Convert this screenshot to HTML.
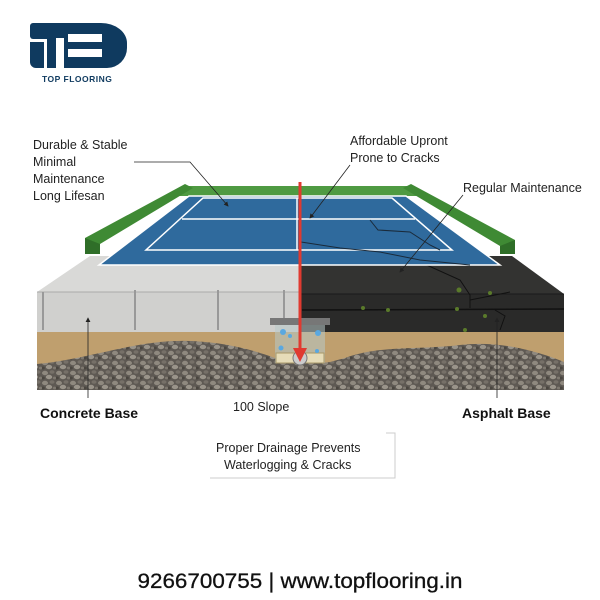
<!DOCTYPE html>
<html><head><meta charset="utf-8"><style>
body{margin:0;width:600px;height:600px;background:#fff;overflow:hidden}
svg{display:block}
text{font-family:"Liberation Sans",sans-serif}
</style></head><body>
<svg width="600" height="600" viewBox="0 0 600 600" xmlns="http://www.w3.org/2000/svg">
<defs>
<pattern id="grav" width="14" height="10" patternUnits="userSpaceOnUse">
<rect width="14" height="10" fill="#5e5953"/>
<ellipse cx="3" cy="3" rx="3" ry="2.2" fill="#8f897f"/>
<ellipse cx="10" cy="2" rx="2.5" ry="1.8" fill="#767068"/>
<ellipse cx="7" cy="7" rx="3.2" ry="2.2" fill="#9a948a"/>
<ellipse cx="1" cy="8" rx="1.8" ry="1.5" fill="#4a4640"/>
<ellipse cx="12.5" cy="8" rx="1.6" ry="1.4" fill="#7e786f"/>
</pattern>
<marker id="ah" markerWidth="6" markerHeight="6" refX="5" refY="3" orient="auto"><path d="M0,0L6,3L0,6z" fill="#222"/></marker>
</defs>
<!-- logo -->
<rect x="30" y="23" width="25" height="16" rx="3" fill="#0f3a5f"/>
<path d="M30,42 h14 v26 h-8 a6,6 0 0 1 -6,-6z" fill="#0f3a5f"/>
<path d="M47,23 h40 v45 h-40z" fill="#0f3a5f"/>
<path d="M59,23 h42 a26,20 0 0 1 26,20 v5 a20,20 0 0 1 -20,20 h-48z" fill="#0f3a5f"/>
<rect x="56" y="38" width="8" height="30" fill="#fff"/>
<rect x="68" y="34" width="34" height="8" fill="#fff"/>
<rect x="68" y="49" width="34" height="8" fill="#fff"/>
<text x="42" y="82" font-size="8.5" font-weight="bold" fill="#0f3a5f" letter-spacing="0.5">TOP FLOORING</text>
<!-- gravel & sand -->
<rect x="37" y="330" width="527" height="60" fill="url(#grav)"/>
<path d="M37,330 H564 V362 C540,352 500,340 460,345 C420,350 380,345 345,358 L330,362 C310,365 290,362 275,358 C240,345 200,338 160,342 C120,346 80,360 37,364Z" fill="#bf9f6e"/>
<!-- concrete -->
<polygon points="37,292 90,256 300,256 300,292" fill="#d9d9d7"/>
<rect x="37" y="292" width="263" height="40" fill="#d0d0ce"/>
<line x1="37" y1="292" x2="300" y2="292" stroke="#aaa" stroke-width="1"/>
<g stroke="#999" stroke-width="2"><line x1="43" y1="292" x2="43" y2="330"/><line x1="135" y1="290" x2="135" y2="330"/><line x1="218" y1="290" x2="218" y2="330"/><line x1="284" y1="290" x2="284" y2="318"/></g>
<!-- asphalt -->
<polygon points="300,256 512,256 564,294 300,294" fill="#333331"/>
<rect x="300" y="294" width="264" height="38" fill="#2a2a29"/>
<line x1="300" y1="294" x2="564" y2="294" stroke="#1a1a1a"/>
<path d="M302,310 L564,309" stroke="#111" stroke-width="1.5" fill="none"/>
<path d="M420,262 L460,280 L470,295 L470,308 M470,300 L510,292 M495,310 L505,316 L500,330" stroke="#111" stroke-width="1" fill="none"/>
<g fill="#5a7a2a"><circle cx="459" cy="290" r="2.5"/><circle cx="490" cy="293" r="2"/><circle cx="363" cy="308" r="2"/><circle cx="388" cy="310" r="2"/><circle cx="457" cy="309" r="2"/><circle cx="485" cy="316" r="2"/><circle cx="465" cy="330" r="2"/></g>
<!-- green rails -->
<polygon points="188,186 408,186 420,196 178,196" fill="#4f9a42"/>
<polygon points="85,238 185,184 193,188 100,244 100,254 85,254" fill="#3f8a34"/>
<polygon points="85,238 100,244 100,254 85,254" fill="#2f6e28"/>
<polygon points="403,188 411,184 515,240 515,254 500,254 500,246" fill="#3f8a34"/>
<polygon points="500,246 515,240 515,254 500,254" fill="#2f6e28"/>
<!-- court -->
<polygon points="189,196 406,196 500,265 99,265" fill="#2f6a9d"/>
<g stroke="#fff" stroke-width="1.5" fill="none">
<polygon points="189,196 406,196 500,265 99,265"/>
<polygon points="203,198 392,198 452,250 146,250"/>
<line x1="182" y1="219" x2="415" y2="219"/>
<line x1="297" y1="198" x2="297" y2="250"/>
</g>
<path d="M370,220 L378,230 L410,232 L430,245 L440,250 M301,242 L340,248 L380,252 L420,260 L470,265" stroke="#1a2a3a" stroke-width="1" fill="none"/>
<!-- drain -->
<rect x="270" y="318" width="60" height="7" fill="#777"/>
<rect x="275" y="325" width="50" height="38" fill="#b8c8c8" opacity="0.55"/>
<rect x="276" y="353" width="48" height="10" fill="#e6dcb8" stroke="#a89868"/>
<circle cx="300" cy="358" r="7" fill="#ccc" stroke="#777"/>
<g fill="#5aa8e0"><circle cx="283" cy="332" r="3"/><circle cx="318" cy="333" r="3"/><circle cx="290" cy="336" r="2"/><circle cx="281" cy="348" r="2.5"/><circle cx="317" cy="351" r="2"/></g>
<!-- red arrow -->
<line x1="300" y1="182" x2="300" y2="352" stroke="#e03a30" stroke-width="3"/>
<polygon points="293,348 307,348 300,362" fill="#e03a30"/>
<!-- leaders -->
<g stroke="#222" stroke-width="0.8" fill="none">
<polyline points="134,162 190,162 228,206" marker-end="url(#ah)"/>
<line x1="350" y1="165" x2="310" y2="218" marker-end="url(#ah)"/>
<line x1="463" y1="195" x2="400" y2="272" marker-end="url(#ah)"/>
<line x1="88" y1="398" x2="88" y2="318" marker-end="url(#ah)"/>
<line x1="497" y1="398" x2="497" y2="318" marker-end="url(#ah)"/>
</g>
<!-- texts -->
<g font-size="12.5" fill="#222">
<text x="33" y="149">Durable &amp; Stable</text>
<text x="33" y="166">Minimal</text>
<text x="33" y="183">Maintenance</text>
<text x="33" y="200">Long Lifesan</text>
<text x="350" y="145">Affordable Upront</text>
<text x="350" y="162">Prone to Cracks</text>
<text x="463" y="192">Regular Maintenance</text>
<text x="233" y="411">100 Slope</text>
<text x="216" y="452">Proper Drainage Prevents</text>
<text x="224" y="469">Waterlogging &amp; Cracks</text>
</g>
<polyline points="386,433 395,433 395,478 210,478" stroke="#ccc" fill="none"/>
<text x="40" y="418" font-size="14" font-weight="bold" fill="#111">Concrete Base</text>
<text x="462" y="418" font-size="14" font-weight="bold" fill="#111">Asphalt Base</text>
<text x="300" y="588" font-size="21" fill="#111" stroke="#111" stroke-width="0.3" text-anchor="middle" textLength="325" lengthAdjust="spacingAndGlyphs">9266700755  |  www.topflooring.in</text>
</svg>
</body></html>
